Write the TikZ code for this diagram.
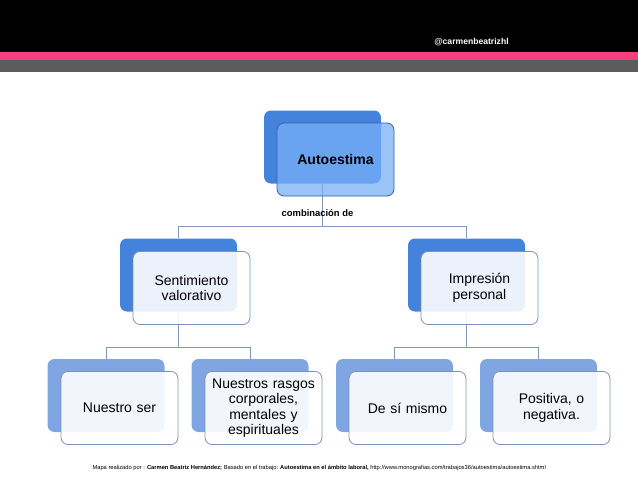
\documentclass[tikz,border=0pt]{standalone}
\usepackage{fontspec}
\setmainfont{Liberation Sans}

\definecolor{boxblue}{RGB}{68,131,220}
\definecolor{boxpale}{RGB}{127,166,227}
\definecolor{topfill}{RGB}{120,175,246}
\definecolor{topframe}{RGB}{52,96,170}
\definecolor{frameblue}{RGB}{123,146,184}
\definecolor{linkgray}{RGB}{128,151,186}
\definecolor{barpink}{RGB}{245,64,128}
\definecolor{bargray}{RGB}{92,92,92}

\begin{document}
\begin{tikzpicture}[
  x=1pt, y=-1pt,
  back/.style={rounded corners=7pt, minimum width=117pt, minimum height=73pt,
               inner sep=0pt},
  backdark/.style={back, fill=boxblue},
  backlight/.style={back, fill=boxpale},
  front/.style={draw=frameblue, line width=0.8pt, rounded corners=7pt,
                minimum width=117pt, minimum height=73pt, inner sep=3pt,
                text width=110pt, align=center, fill=white, fill opacity=0.9,
                text opacity=1, font=\fontsize{14}{15.5}\selectfont},
  topfront/.style={front, draw=topframe, fill=topfill, fill opacity=0.75,
                   font=\fontsize{14}{16}\selectfont\bfseries},
  link/.style={draw=linkgray, line width=0.7pt},
  handle/.style={text=white, font=\fontsize{8.6}{10}\selectfont\bfseries},
  note/.style={font=\fontsize{9.4}{11}\selectfont\bfseries},
  foot/.style={font=\fontsize{5.75}{7}\selectfont, anchor=west},
]
  \useasboundingbox (0,0) rectangle (638,479);

  % Header bands
  \fill[black] (0,0) rectangle (638,52);
  \fill[barpink] (0,52) rectangle (638,60);
  \fill[bargray] (0,60) rectangle (638,72);
  \node[handle] (handle) at (471.5,42) {@carmenbeatrizhl};

  % Back plates of every concept
  \node[backdark] (topb) at (322.5,147) {};
  \node[backdark] (leftb) at (178.5,275) {};
  \node[backdark] (rightb) at (466.5,275) {};
  \node[backlight] (l1b) at (106,395.5) {};
  \node[backlight] (l2b) at (250,395.5) {};
  \node[backlight] (r1b) at (394.5,395.5) {};
  \node[backlight] (r2b) at (538.5,395.5) {};

  % Tree links, behind the front cards
  \draw[link] (topb.south) -- ++(0,43) -| (leftb.north);
  \draw[link] (topb.south) -- ++(0,43) -| (rightb.north);
  \draw[link] (leftb.south) -- ++(0,35.5) -| (l1b.north);
  \draw[link] (leftb.south) -- ++(0,35.5) -| (l2b.north);
  \draw[link] (rightb.south) -- ++(0,35.5) -| (r1b.north);
  \draw[link] (rightb.south) -- ++(0,35.5) -| (r2b.north);
  \node[note] (combo) at (317.5,213) {combinación de};

  % Front cards with the texts
  \node[topfront] (top) at (335.5,159.5) {Autoestima};
  \node[front] (left) at (191.5,288) {Sentimiento\\ valorativo};
  \node[front] (right) at (479.5,288) {Impresión\\ personal};
  \node[front] (l1) at (119.5,408) {Nuestro ser};
  \node[front] (l2) at (263.5,408) {Nuestros rasgos\\ corporales,\\ mentales y\\ espirituales};
  \node[front] (r1) at (407.5,408) {De sí mismo};
  \node[front] (r2) at (551.5,408) {Positiva, o\\ negativa.};

  \node[foot] (credit) at (89,468) {Mapa realizado por : \textbf{Carmen Beatriz Hernández;} Basado en el trabajo: \textbf{Autoestima en el ámbito laboral,} http://www.monografias.com/trabajos36/autoestima/autoestima.shtml};
\end{tikzpicture}
\end{document}
